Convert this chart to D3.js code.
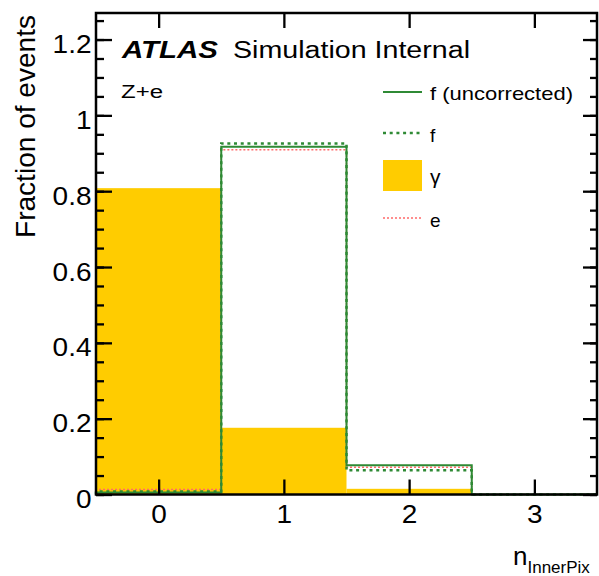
<!DOCTYPE html>
<html>
<head>
<meta charset="utf-8">
<script src="https://cdn.jsdelivr.net/npm/d3@7"></script>
<style>
  html, body { margin: 0; padding: 0; background: #fff; }
  svg { display: block; font-family: "Liberation Sans", Arial, Helvetica, sans-serif; }
</style>
</head>
<body>
<svg id="chart" width="599" height="576"></svg>
<script>
// Bin centres of the n_InnerPix histogram
const bins = [0, 1, 2, 3];
// Fraction of events per bin for each sample
const fUncorrected = [0.005, 0.917, 0.077, 0.0];
const fCorrected   = [0.008, 0.926, 0.064, 0.0];
const gamma        = [0.808, 0.176, 0.015, 0.0];
const electron     = [0.013, 0.909, 0.072, 0.0];
// Axis ticks
const yMajorTicks = [0, 0.2, 0.4, 0.6, 0.8, 1, 1.2];
const yTickLabels = ["0", "0.2", "0.4", "0.6", "0.8", "1", "1.2"];
const yMinorTicks = d3.range(0, 1.2701, 0.05);
const xTicks = [0, 1, 2, 3];
const xTickLabels = ["0", "1", "2", "3"];
// Legend entries
const legendLabels = ["f (uncorrected)", "f", "γ", "e"];

const svg = d3.select("#chart");
const L = 96, R = 597, T = 13, B = 494.5;

const x = d3.scaleLinear().domain([-0.5, 3.5]).range([L, R]);
const y = d3.scaleLinear().domain([0, 1.27]).range([B, T]);

const YELLOW = "#ffcc00", GREEN = "#2f8a35", RED = "#ff6a6a";

// gamma: filled bins
svg.append("g").selectAll("rect").data(bins).join("rect")
  .attr("x", d => x(d - 0.5))
  .attr("width", d => x(d + 0.5) - x(d - 0.5))
  .attr("y", (d, i) => y(gamma[i]))
  .attr("height", (d, i) => y(0) - y(gamma[i]))
  .attr("fill", YELLOW);

// Step outline of a histogram
function stepPath(vals) {
  const pts = [[-0.5, 0]].concat(bins.map((b, i) => [b - 0.5, vals[i]]));
  pts.push([bins[bins.length - 1] + 0.5, vals[vals.length - 1]]);
  return d3.line().x(d => x(d[0])).y(d => y(d[1])).curve(d3.curveStepAfter)(pts);
}

svg.append("path").attr("d", stepPath(electron))
  .attr("fill", "none").attr("stroke", RED).attr("stroke-width", 1.5)
  .attr("stroke-dasharray", "2,2");
svg.append("path").attr("d", stepPath(fUncorrected))
  .attr("fill", "none").attr("stroke", GREEN).attr("stroke-width", 2);
svg.append("path").attr("d", stepPath(fCorrected))
  .attr("fill", "none").attr("stroke", GREEN).attr("stroke-width", 2.5)
  .attr("stroke-dasharray", "3,3.7");

// Axes: ticks pointing inward on all four sides
const tickStyle = g => {
  g.select(".domain").remove();
  g.selectAll("line").attr("stroke", "#000").attr("stroke-width", 2.3);
};
const SX = 1.12;

svg.append("g").attr("transform", `translate(${L},0)`)
  .call(d3.axisLeft(y).tickValues(yMinorTicks).tickSize(-8).tickFormat(""))
  .call(tickStyle);
svg.append("g").attr("transform", `translate(${L},0)`)
  .call(d3.axisLeft(y).tickValues(yMajorTicks).tickSize(-16).tickPadding(4)
        .tickFormat((d, i) => yTickLabels[i]))
  .call(tickStyle)
  .call(g => g.selectAll("text")
    .attr("font-size", 25).attr("fill", "#000").attr("font-family", null)
    .attr("dy", null).attr("y", 13)
    .attr("transform", `scale(${SX},1)`));

svg.append("g").attr("transform", `translate(${R},0)`)
  .call(d3.axisRight(y).tickValues(yMinorTicks).tickSize(-7).tickFormat(""))
  .call(tickStyle);
svg.append("g").attr("transform", `translate(${R},0)`)
  .call(d3.axisRight(y).tickValues(yMajorTicks).tickSize(-14).tickFormat(""))
  .call(tickStyle);

svg.append("g").attr("transform", `translate(0,${B})`)
  .call(d3.axisBottom(x).tickValues(xTicks).tickSize(-15).tickPadding(0)
        .tickFormat((d, i) => xTickLabels[i]))
  .call(tickStyle)
  .call(g => g.selectAll("text")
    .attr("font-size", 25).attr("fill", "#000").attr("font-family", null)
    .attr("dy", null).attr("y", 29)
    .attr("transform", `scale(${SX},1)`));
svg.append("g").attr("transform", `translate(0,${T})`)
  .call(d3.axisTop(x).tickValues(xTicks).tickSize(-15).tickFormat(""))
  .call(tickStyle);

// Frame
svg.append("rect").attr("x", L).attr("y", T)
  .attr("width", R - L).attr("height", B - T)
  .attr("fill", "none").attr("stroke", "#000").attr("stroke-width", 2.5);

// Text helper
function label(px, py, str, size, opts = {}) {
  const t = svg.append("text").attr("x", px).attr("y", py)
    .attr("font-size", size).attr("fill", opts.fill || "#000")
    .text(str);
  if (opts.weight) t.attr("font-weight", opts.weight);
  if (opts.style) t.attr("font-style", opts.style);
  if (opts.anchor) t.attr("text-anchor", opts.anchor);
  if (opts.width) t.attr("textLength", opts.width).attr("lengthAdjust", "spacingAndGlyphs");
  return t;
}

label(122, 58, "ATLAS", 23, { weight: "bold", style: "italic", width: 96 });
label(233, 58, "Simulation Internal", 23, { width: 237 });
label(121, 98, "Z+e", 18, { width: 42 });

// Axis titles
svg.append("text")
  .attr("transform", "translate(35,15) rotate(-90)")
  .attr("text-anchor", "end").attr("font-size", 27)
  .attr("textLength", 223).attr("lengthAdjust", "spacingAndGlyphs")
  .text("Fraction of events");
const xt = svg.append("text").attr("x", 513).attr("y", 565).attr("font-size", 26);
xt.append("tspan").text("n");
xt.append("tspan").attr("font-size", 17).attr("dy", 8).text("InnerPix");

// Legend
const legY = [92, 133, 175, 218];
const legX0 = 383, legX1 = 422;
const leg = svg.append("g");
leg.append("line").attr("x1", legX0).attr("x2", legX1).attr("y1", legY[0]).attr("y2", legY[0])
  .attr("stroke", GREEN).attr("stroke-width", 2);
leg.append("line").attr("x1", legX0).attr("x2", legX1).attr("y1", legY[1]).attr("y2", legY[1])
  .attr("stroke", GREEN).attr("stroke-width", 2.5).attr("stroke-dasharray", "3,3.7");
leg.append("rect").attr("x", legX0).attr("y", 160).attr("width", legX1 - legX0).attr("height", 31)
  .attr("fill", YELLOW);
leg.append("line").attr("x1", legX0).attr("x2", legX1).attr("y1", legY[3]).attr("y2", legY[3])
  .attr("stroke", RED).attr("stroke-width", 1.5).attr("stroke-dasharray", "2,2");

label(430, 100, legendLabels[0], 19, { width: 143 });
label(430, 142, legendLabels[1], 19);
label(430, 184, legendLabels[2], 21);
label(430, 227, legendLabels[3], 19);
</script>
</body>
</html>
